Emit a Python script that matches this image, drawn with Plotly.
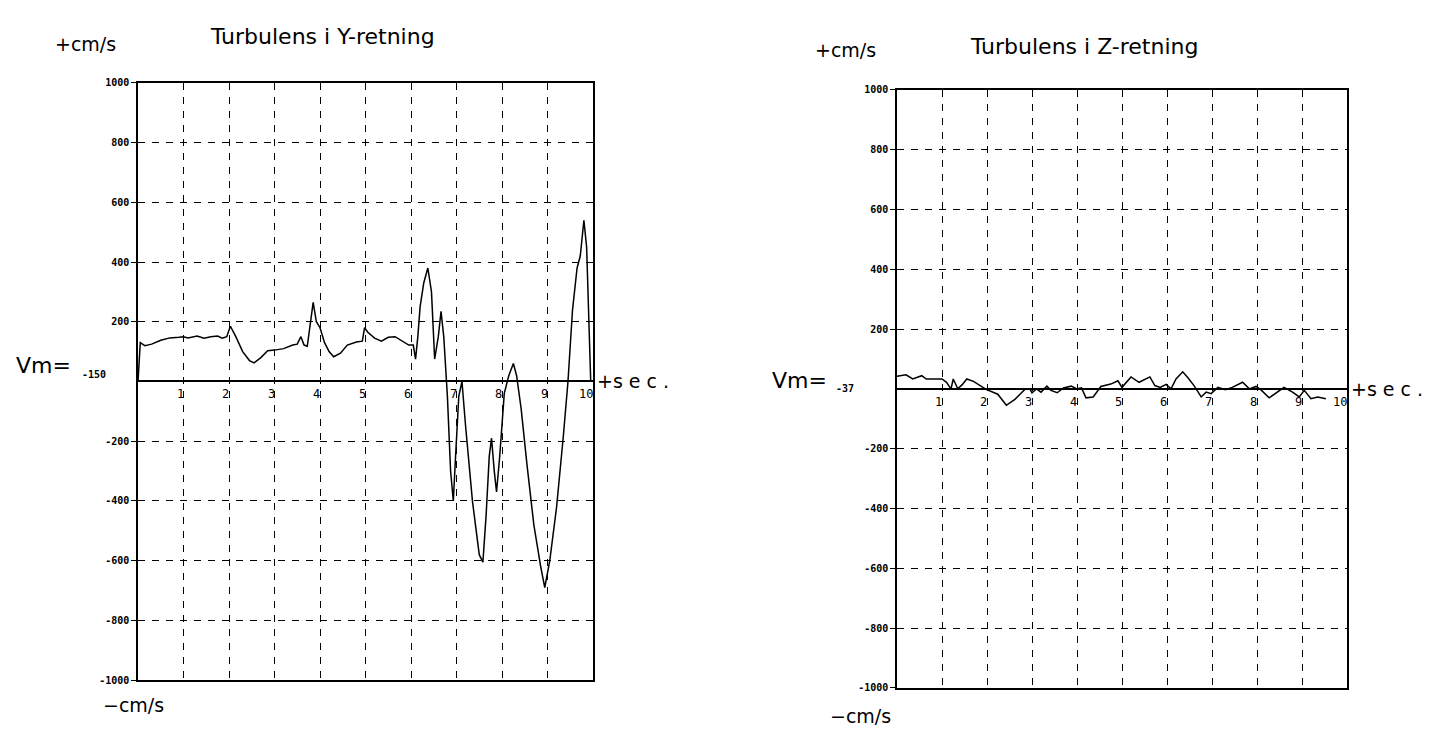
import plotly.graph_objects as go

# ---- data ----
t_y = [0.0, 0.05, 0.15, 0.3, 0.5, 0.7, 0.9, 1.0, 1.1, 1.3, 1.45, 1.6, 1.75, 1.85, 1.95, 2.03, 2.15, 2.3, 2.45,
       2.55, 2.7, 2.85, 3.0, 3.2, 3.4, 3.5, 3.58, 3.65, 3.72, 3.78, 3.85, 3.92, 4.0, 4.1, 4.2, 4.3, 4.45, 4.6,
       4.8, 4.93, 4.98, 5.05, 5.2, 5.35, 5.5, 5.65, 5.8, 5.95, 6.05, 6.1, 6.15, 6.2, 6.28, 6.37, 6.45, 6.52,
       6.6, 6.66, 6.72, 6.8, 6.87, 6.93, 6.98, 7.05, 7.12, 7.2, 7.35, 7.5, 7.58, 7.65, 7.72, 7.77, 7.83, 7.88,
       7.95, 8.05, 8.15, 8.25, 8.32, 8.42, 8.55, 8.7, 8.85, 8.94, 9.05, 9.2, 9.35, 9.45, 9.55, 9.65, 9.72,
       9.8, 9.86, 9.95]
v_y = [0, 130, 120, 125, 138, 146, 148, 150, 146, 152, 145, 150, 152, 145, 150, 185, 150, 100, 70,
       62, 80, 103, 105, 110, 122, 125, 150, 122, 118, 190, 265, 200, 180, 130, 100, 83, 95, 122,
       132, 135, 180, 165, 145, 135, 148, 150, 135, 122, 122, 75, 150, 250, 330, 380, 300, 75,
       150, 235, 150, -50, -300, -400, -250, -50, 0, -150, -400, -580, -605, -450, -250, -190, -300, -370,
       -250, -40, 20, 60, 20, -90, -280, -480, -620, -690, -600, -420, -180, 0, 240, 380, 420,
       540, 450, 0]

t_z = [0.0, 0.2, 0.35, 0.55, 0.65, 1.0, 1.1, 1.2, 1.25, 1.35, 1.45, 1.55, 1.7, 1.98, 2.24, 2.43, 2.62, 2.84,
       2.95, 3.0, 3.1, 3.2, 3.33, 3.42, 3.56, 3.7, 3.87, 4.0, 4.1, 4.2, 4.36, 4.53, 4.75, 4.91, 5.0, 5.2,
       5.38, 5.62, 5.73, 5.85, 5.98, 6.09, 6.2, 6.35, 6.46, 6.6, 6.76, 6.87, 6.98, 7.13, 7.3, 7.45, 7.68,
       7.83, 7.98, 8.1, 8.27, 8.46, 8.6, 8.79, 8.94, 9.05, 9.2, 9.35, 9.53]
v_z = [42, 47, 33, 44, 33, 33, 22, 0, 33, 0, 14, 33, 25, -2, -18, -55, -35, -2,
       0, -13, 0, -11, 9, -5, -13, 3, 9, 0, 3, -30, -27, 8, 16, 27, 5, 40,
       22, 40, 11, 5, 15, 0, 33, 57, 38, 11, -27, -11, -16, 5, -3, 5, 22,
       0, 8, -5, -30, -11, 5, -11, -27, -5, -33, -27, -33]

y_ticks = [1000, 800, 600, 400, 200, -200, -400, -600, -800, -1000]
x_ticks = [1, 2, 3, 4, 5, 6, 7, 8, 9, 10]
titles = ["Turbulens i Y-retning", "Turbulens i Z-retning"]
vm_values = ["-150", "-37"]

W, H = 1432, 744
def fx(px): return px / W
def fy(py): return 1 - py / H

fig = go.Figure()
fig.add_trace(go.Scatter(x=t_y, y=v_y, mode="lines", line=dict(color="black", width=1.5),
                         xaxis="x", yaxis="y", showlegend=False))
fig.add_trace(go.Scatter(x=t_z, y=v_z, mode="lines", line=dict(color="black", width=1.5),
                         xaxis="x2", yaxis="y2", showlegend=False))

tickfont = dict(family="DejaVu Sans Mono", size=10, color="black", weight="bold")
def xax(domain, anchor):
    return dict(domain=domain, anchor=anchor, range=[0, 10], tickvals=x_ticks, showticklabels=False,
                showgrid=True, gridcolor="black", gridwidth=1, griddash="7px,7px",
                showline=True, linecolor="black", linewidth=1.5, mirror=True, zeroline=False, ticks="")
def yax(domain, anchor):
    return dict(domain=domain, anchor=anchor, range=[-1000, 1000], tickvals=y_ticks,
                ticktext=[str(v) for v in y_ticks], tickfont=tickfont,
                showgrid=True, gridcolor="black", gridwidth=1, griddash="7px,7px",
                showline=True, linecolor="black", linewidth=1.5, mirror=True,
                zeroline=True, zerolinecolor="black", zerolinewidth=1.5,
                ticks="outside", ticklen=5, tickcolor="black")

fig.update_layout(
    width=W, height=H, margin=dict(l=0, r=0, t=0, b=0),
    paper_bgcolor="white", plot_bgcolor="white",
    xaxis=xax([fx(130), fx(585)], "y"),
    yaxis=yax([fy(677), fy(70)], "x"),
    xaxis2=xax([fx(889), fx(1339)], "y2"),
    yaxis2=yax([fy(685), fy(77)], "x2"),
)

ann = []
txtfont = dict(family="DejaVu Sans", size=19, color="black")
for i, (xr, yr) in enumerate([("x", "y"), ("x2", "y2")]):
    for k in x_ticks:
        ann.append(dict(x=k, y=0, xref=xr, yref=yr, text=str(k), showarrow=False,
                        xanchor="right", yanchor="top", xshift=2, yshift=-4,
                        font=dict(family="DejaVu Sans Mono", size=12, color="black")))
    ann.append(dict(x=10, y=0, xref=xr, yref=yr, text="+s e c .", showarrow=False,
                    xanchor="left", yanchor="middle", xshift=2, yshift=0, font=txtfont))

titlefont = dict(family="DejaVu Sans", size=22, color="black")
ann += [
    dict(x=fx(45), y=fy(30), xref="paper", yref="paper", text="+cm/s", showarrow=False,
         xanchor="left", yanchor="middle", font=txtfont),
    dict(x=fx(200), y=fy(23), xref="paper", yref="paper", text=titles[0], showarrow=False,
         xanchor="left", yanchor="middle", font=titlefont),
    dict(x=fx(6), y=fy(357), xref="paper", yref="paper", text="Vm=", showarrow=False,
         xanchor="left", yanchor="middle", font=dict(family="DejaVu Sans", size=22, color="black")),
    dict(x=fx(72), y=fy(366), xref="paper", yref="paper", text=vm_values[0], showarrow=False,
         xanchor="left", yanchor="middle", font=tickfont),
    dict(x=fx(93), y=fy(702), xref="paper", yref="paper", text="\u2212cm/s", showarrow=False,
         xanchor="left", yanchor="middle", font=txtfont),
    dict(x=fx(805), y=fy(37), xref="paper", yref="paper", text="+cm/s", showarrow=False,
         xanchor="left", yanchor="middle", font=txtfont),
    dict(x=fx(960), y=fy(33), xref="paper", yref="paper", text=titles[1], showarrow=False,
         xanchor="left", yanchor="middle", font=titlefont),
    dict(x=fx(762), y=fy(372), xref="paper", yref="paper", text="Vm=", showarrow=False,
         xanchor="left", yanchor="middle", font=dict(family="DejaVu Sans", size=22, color="black")),
    dict(x=fx(826), y=fy(381), xref="paper", yref="paper", text=vm_values[1], showarrow=False,
         xanchor="left", yanchor="middle", font=tickfont),
    dict(x=fx(820), y=fy(713), xref="paper", yref="paper", text="\u2212cm/s", showarrow=False,
         xanchor="left", yanchor="middle", font=txtfont),
]
fig.update_layout(annotations=ann)
fig.write_html("out.html")
